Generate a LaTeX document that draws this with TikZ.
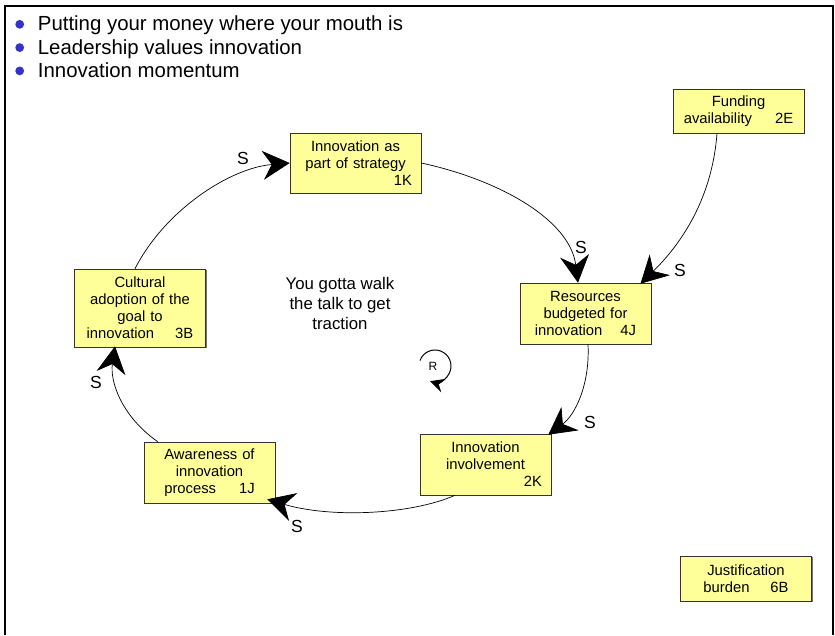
\documentclass[tikz,border=0pt]{standalone}
\usepackage{fontspec}
\setmainfont{Liberation Sans}
\usetikzlibrary{arrows.meta,shadows}
\definecolor{boxfill}{RGB}{255,255,153}
\definecolor{bulletblue}{RGB}{51,51,204}

\begin{document}
\begin{tikzpicture}[x=1pt,y=1pt,
  var/.style={draw=black!80, line width=0.6pt, fill=boxfill,
    inner xsep=9pt, inner ysep=0pt, text width=113pt, align=center,
    font=\fontsize{14.8}{17}\selectfont,
    drop shadow={shadow xshift=1pt, shadow yshift=-1pt, fill=black!55, opacity=1}},
  link/.style={line width=0.7pt, -{Stealth[length=27pt,width=29pt,inset=9pt]}},
  pol/.style={font=\fontsize{17.5}{17}\selectfont, inner sep=0pt},
  headline/.style={anchor=base west, inner sep=0pt, font=\fontsize{20.4}{23}\selectfont},
  dot/.style={fill=bulletblue}
]
\useasboundingbox (0,0) rectangle (835,-635);

% page frame
\draw[line width=1.3pt] (5,-635) -- (5,-6) -- (833,-6) -- (833,-635);

% bullet list
\node[headline] (h1) at (37.7,-30.7) {Putting your money where your mouth is};
\node[headline] (h2) at (37.7,-54) {Leadership values innovation};
\node[headline] (h3) at (37.7,-77.3) {Innovation momentum};
\foreach \n in {h1,h2,h3}
  \fill[dot] ([xshift=-18pt,yshift=6.4pt]\n.base west) circle (4.4pt);

% variables
\node[var, minimum height=60pt] (strat) at (355.5,-163)
  {Innovation as\\part of strategy\\\hspace*{\fill}1K};
\node[var, minimum height=78pt] (cult) at (140,-308)
  {Cultural\\adoption of the\\goal to\\innovation\hspace{21pt}3B};
\node[var, minimum height=61pt] (res) at (585.5,-313.5)
  {Resources\\budgeted for\\innovation\hspace{18pt}4J};
\node[var, minimum height=44pt] (fund) at (738.5,-111)
  {Funding\\availability\hspace{23pt}2E};
\node[var, minimum height=61pt] (aware) at (209.5,-472.5)
  {Awareness of\\innovation\\process\hspace{23pt}1J};
\node[var, minimum height=61pt] (invol) at (485.5,-464.5)
  {Innovation\\involvement\\\hspace*{\fill}2K};
\node[var, minimum height=45pt] (just) at (746,-578.5)
  {Justification\\burden\hspace{21pt}6B};

% causal links
\draw[link] (strat.east) .. controls (500,-180) and (570,-220) .. ([xshift=-7.5pt]res.north);
\draw[link] ([xshift=-21.5pt]fund.south) .. controls (712,-200) and (680,-245) .. ([xshift=55pt,yshift=-1pt]res.north);
\draw[link] ([xshift=2.5pt]res.south) .. controls (590,-385) and (575,-415) .. ([xshift=-3pt,yshift=-1pt]invol.north east);
\draw[link] ([xshift=-30.5pt]invol.south) .. controls (410,-515) and (330,-518) .. ([xshift=-8pt,yshift=4pt]aware.south east);
\draw[link] ([xshift=14pt]aware.north west) .. controls (120,-415) and (110,-380) .. ([xshift=-25pt,yshift=1pt]cult.south);
\draw[link] ([xshift=-5pt]cult.north) .. controls (165,-210) and (230,-168) .. (strat.west);

% polarities
\node[pol] (s1) at (243,-158) {S};
\node[pol] (s2) at (581,-247) {S};
\node[pol] (s3) at (680,-270) {S};
\node[pol] (s4) at (590,-422) {S};
\node[pol] (s5) at (297,-526) {S};
\node[pol] (s6) at (96,-382) {S};

% loop label
\node[align=center, inner sep=0pt, font=\fontsize{16.8}{20}\selectfont] (loopname) at (340,-303)
  {You gotta walk\\the talk to get\\traction};
\node[inner sep=0pt, font=\fontsize{12}{12}\selectfont] (loopR) at (433,-366) {R};
\draw[line width=1pt, -{Stealth[length=14pt,width=14pt,inset=5pt]}]
  ([shift={(160:16)}]435,-366) arc[start angle=160, end angle=-108, radius=16];
\end{tikzpicture}
\end{document}
